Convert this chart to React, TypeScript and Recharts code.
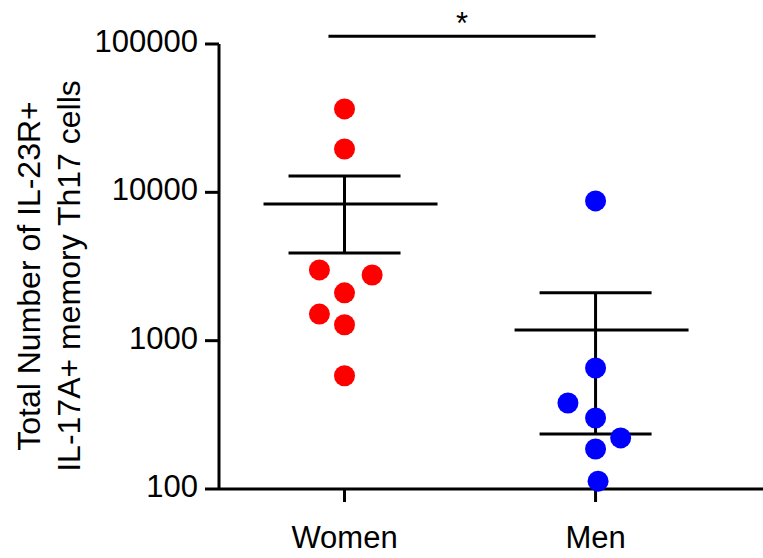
import { ScatterChart, Scatter, XAxis, YAxis, ErrorBar, ReferenceLine } from "recharts";

const groups = ["Women", "Men"];
const yTicks = [100, 1000, 10000, 100000];

// individual values, x = group position with a little jitter
const womenX = [1, 1, 0.9, 1.11, 1, 0.9, 1, 1];
const womenY = [36500, 19600, 3000, 2770, 2100, 1510, 1280, 580];
const menX = [2, 2, 1.89, 2, 2.1, 2, 2.01];
const menY = [8750, 654, 380, 301, 221, 186, 113];

// mean +/- SEM
const means = [8350, 1180];
const upper = [12900, 2100];
const lower = [3900, 235];

// significance bar (start, end) and its height
const sigX = [0.936, 2];
const sigY = 113000;

const font = "'Liberation Sans', Arial, sans-serif";

const women = womenX.map((x, i) => ({ x, y: womenY[i] }));
const men = menX.map((x, i) => ({ x, y: menY[i] }));
const summary = means.map((m, i) => ({ x: i + 1, y: m, err: [m - lower[i], upper[i] - m] }));

const Dot = (color: string) => (props: any) => <circle cx={props.cx} cy={props.cy} r={10.5} fill={color} />;

const MeanLine = (props: any) => (
  <line x1={props.cx - 81} x2={props.cx + 93} y1={props.cy} y2={props.cy} stroke="#000" strokeWidth={3} />
);

const YLabel = () => (
  <g fontFamily={font} fontSize={32} fill="#000">
    <text transform="translate(40, 276) rotate(-90)" textAnchor="middle">Total Number of IL-23R+</text>
    <text transform="translate(80, 276) rotate(-90)" textAnchor="middle">IL-17A+ memory Th17 cells</text>
  </g>
);

export default function App() {
  return (
    <div style={{ position: "absolute", left: 0, top: 0, background: "#fff" }}>
      <ScatterChart width={763} height={558} margin={{ top: 44, right: 0, bottom: 0, left: 0 }}>
        <XAxis
          type="number"
          dataKey="x"
          domain={[0.5, 2.667]}
          ticks={[1, 2]}
          tickFormatter={(v) => groups[v - 1]}
          height={69}
          axisLine={{ stroke: "#000", strokeWidth: 3 }}
          tickLine={{ stroke: "#000", strokeWidth: 3 }}
          tickSize={13}
          tickMargin={24}
          tick={{ fill: "#000", fontSize: 31, fontFamily: font }}
        />
        <YAxis
          type="number"
          dataKey="y"
          scale="log"
          domain={[100, 100000]}
          ticks={yTicks}
          tickFormatter={(v) => String(v)}
          width={219}
          axisLine={{ stroke: "#000", strokeWidth: 3 }}
          tickLine={{ stroke: "#000", strokeWidth: 3 }}
          tickSize={14}
          tickMargin={7}
          tick={{ fill: "#000", fontSize: 31, fontFamily: font, dy: -3 }}
          label={{ content: YLabel }}
        />
        <ReferenceLine
          segment={[{ x: sigX[0], y: sigY }, { x: sigX[1], y: sigY }]}
          stroke="#000"
          strokeWidth={3}
          ifOverflow="visible"
          label={{ value: "*", position: "top", offset: 2, fontSize: 31, fill: "#000", fontFamily: font }}
        />
        <Scatter data={summary} shape={MeanLine} isAnimationActive={false}>
          <ErrorBar dataKey="err" direction="y" width={56} stroke="#000" strokeWidth={3} isAnimationActive={false} />
        </Scatter>
        <Scatter data={women} shape={Dot("#ff0000")} isAnimationActive={false} />
        <Scatter data={men} shape={Dot("#0000ff")} isAnimationActive={false} />
      </ScatterChart>
    </div>
  );
}
